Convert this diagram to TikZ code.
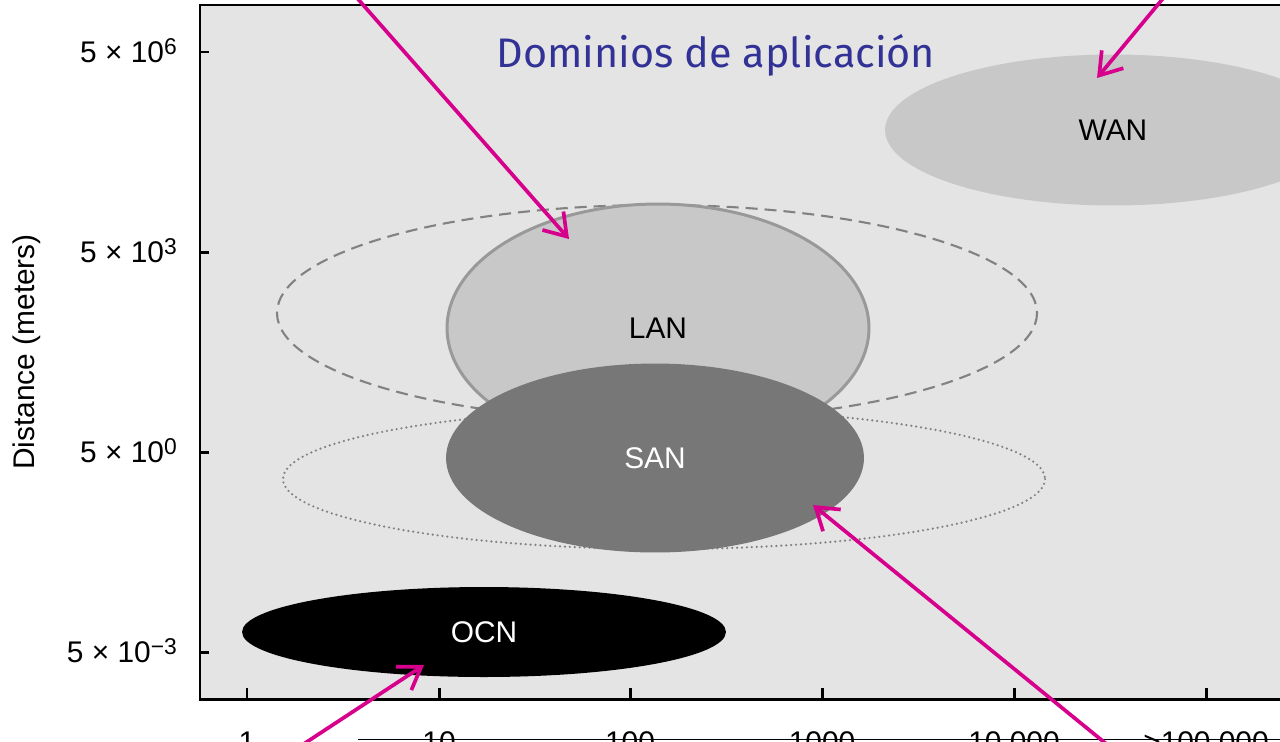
\documentclass[tikz,border=0pt]{standalone}
\usepackage{fontspec}
\setmainfont{Liberation Sans}
\newfontfamily\titlefont{Fira Sans}
\usetikzlibrary{shapes.geometric,arrows.meta}
\definecolor{plotbg}{RGB}{228,228,228}
\definecolor{lightarea}{RGB}{200,200,200}
\definecolor{darkarea}{RGB}{119,119,119}
\definecolor{rimgray}{RGB}{153,153,153}
\definecolor{outlinegray}{RGB}{130,130,130}
\definecolor{titleblue}{RGB}{50,50,150}
\definecolor{pointer}{RGB}{214,0,140}
\tikzset{
  axis/.style={line width=1.7pt},
  area/.style={ellipse,inner sep=0pt},
  pointer arrow/.style={pointer,line width=2.1pt,-{Straight Barb[length=4.2mm,width=5.6mm]}},
}
\begin{document}
\begin{tikzpicture}[x=0.02cm,y=-0.02cm,font=\fontsize{17}{20}\selectfont]
\useasboundingbox (0,0) rectangle (1280,741);
\fill[plotbg] (200,5) rectangle (1300,699);

% wider domains, only outlined
\draw[outlinegray,line width=1.2pt,dash pattern=on 0.24cm off 0.14cm] (657,313) ellipse [x radius=380,y radius=108];
\draw[outlinegray,line width=1.4pt,line cap=round,dash pattern=on 0pt off 2.8pt] (664,479) ellipse [x radius=381,y radius=70];

\node[area,fill=lightarea,draw=rimgray,line width=1.7pt,minimum width=8.44cm,minimum height=4.96cm] (lan) at (658,328) {LAN};
\node[area,fill=darkarea,text=white,minimum width=8.36cm,minimum height=3.78cm] (san) at (655,458) {SAN};
\node[area,fill=black,text=white,minimum width=9.68cm,minimum height=1.8cm] (ocn) at (484,632) {OCN};
\node[area,fill=lightarea,minimum width=9.12cm,minimum height=3.02cm] (wan) at (1113,130) {WAN};

\node[anchor=base,text=titleblue,font=\titlefont\fontsize{23.5}{26}\selectfont] (title) at (716,67) {Dominios de aplicación};

% axes
\draw[axis] (1300,5) -| (200,699) -- (1300,699);
\foreach \y/\e [count=\i] in {52/6,252/3,452/0,652/−3}{
  \draw[axis] (200,\y) -- (209,\y);
  \node[anchor=base east] (ylab\i) at (183,\y+10.5) {5 × 10\raisebox{0.5ex}{\fontsize{13}{13}\selectfont\e}};
}
\foreach \x/\t [count=\i] in {247/1,439/10,630/100,822/1000,1014/{10,000},1206/{>100,000}}{
  \draw[axis] (\x,699) -- (\x,688);
  \node[anchor=base] (xlab\i) at (\x,752) {\t};
}
\node[rotate=90] (ylabel) at (27,352) {Distance (meters)};
\draw[line width=1pt] (358,739.5) -- (1300,739.5);

% pointers
\coordinate (lanfrom) at (350,-10);
\coordinate (lantip) at (569,239);
\coordinate (wanfrom) at (1170,-10);
\coordinate (wantip) at (1097,78);
\coordinate (sanfrom) at (1115,751);
\coordinate (santip) at (813,505);
\coordinate (ocnfrom) at (293,751);
\coordinate (ocntip) at (424,665);
\draw[pointer arrow] (lanfrom) -- (lantip);
\draw[pointer arrow] (wanfrom) -- (wantip);
\draw[pointer arrow] (sanfrom) -- (santip);
\draw[pointer arrow] (ocnfrom) -- (ocntip);
\end{tikzpicture}
\end{document}
